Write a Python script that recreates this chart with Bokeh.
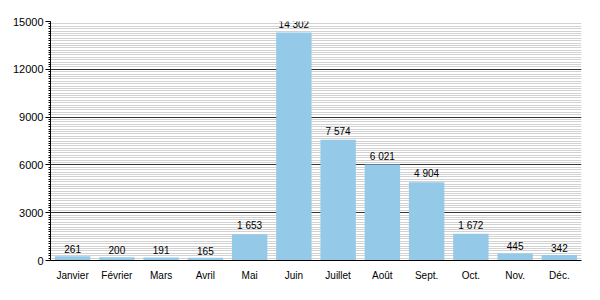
from bokeh.plotting import figure
from bokeh.models import ColumnDataSource, SingleIntervalTicker, Range1d, FactorRange
from bokeh.embed import file_html
from bokeh.resources import INLINE
from bokeh.core.properties import value

months = ["Janvier", "Février", "Mars", "Avril", "Mai", "Juin", "Juillet",
          "Août", "Sept.", "Oct.", "Nov.", "Déc."]
visitors = [261, 200, 191, 165, 1653, 14302, 7574, 6021, 4904, 1672, 445, 342]
labels = [f"{v:,}".replace(",", " ") for v in visitors]

src = ColumnDataSource(dict(m=months, v=visitors, lab=labels))

p = figure(x_range=FactorRange(*months, range_padding=0), y_range=Range1d(0, 15000),
           width=600, height=300, output_backend="svg", toolbar_location=None,
           min_border_left=50, min_border_right=19, min_border_top=21,
           min_border_bottom=40)
p.outline_line_color = None
p.background_fill_color = "white"

p.vbar(x="m", top="v", width=0.8, source=src, fill_color="#94c9e8", line_color=None)
p.text(x="m", y="v", text="lab", source=src, text_align="center",
       text_baseline="bottom", y_offset=-3, text_font=value("Liberation Sans"),
       text_font_size="10px", text_color="black")

p.yaxis.ticker = SingleIntervalTicker(interval=3000, num_minor_ticks=20)
p.ygrid.ticker = p.yaxis.ticker
p.ygrid.grid_line_color = "#333333"
p.ygrid.minor_grid_line_color = "#d2d2d2"
p.ygrid.minor_grid_line_width = 1
p.ygrid.level = "underlay"
p.xgrid.grid_line_color = None

for ax in (p.xaxis, p.yaxis):
    ax.axis_line_color = "black"
    ax.major_label_text_font = "Liberation Sans"
    ax.major_label_text_font_size = "10px"
    ax.major_label_text_color = "black"

p.yaxis.major_label_text_font_size = "11px"
p.yaxis.major_tick_out = 5
p.yaxis.major_tick_in = 0
p.yaxis.minor_tick_out = 2
p.yaxis.minor_tick_in = 0
p.yaxis.major_tick_line_color = "black"
p.yaxis.minor_tick_line_color = "black"
p.yaxis.major_label_standoff = 2
p.xaxis.major_tick_line_color = None
p.xaxis.minor_tick_line_color = None
p.xaxis.major_label_standoff = 3

open("out.html", "w").write(file_html(p, INLINE))
